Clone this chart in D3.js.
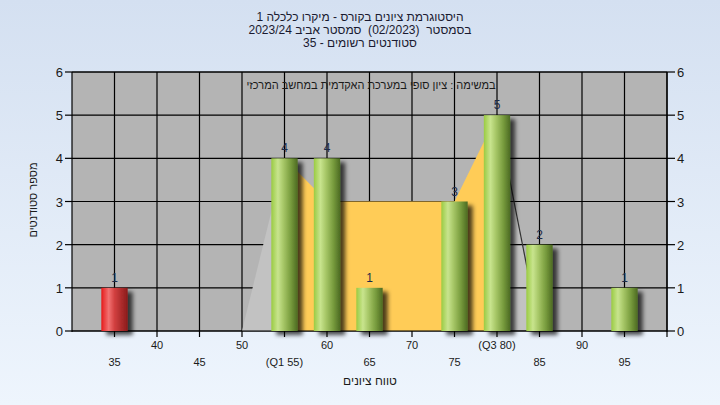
<!DOCTYPE html>
<html><head><meta charset="utf-8">
<script src="https://cdn.jsdelivr.net/npm/d3@7"></script>
<style>
html,body{margin:0;padding:0;overflow:hidden;}
svg text{font-family:"Liberation Sans",Arial,sans-serif;white-space:pre;}
</style></head>
<body>
<script>
// ---- data ----
const titleLines = ["היסטוגרמת ציונים בקורס - מיקרו כלכלה 1", "בסמסטר  (02/2023)  סמסטר אביב 2023/24", "סטודנטים רשומים - 35"];
const seriesName = "במשימה : ציון סופי במערכת האקדמית במחשב המרכזי";
const xTitle = "טווח ציונים";
const yTitle = "מספר סטודנטים";
const scores = [35, 55, 60, 65, 75, 80, 85, 95];
const counts = [1, 4, 4, 1, 3, 5, 2, 1];
const tickValues = [35, 40, 45, 50, 55, 60, 65, 70, 75, 80, 85, 90, 95];
const tickLabels = ["35", "40", "45", "50", "(Q1 55)", "60", "65", "70", "75", "(Q3 80)", "85", "90", "95"];
const spreadX = [50, 55, 60, 65, 70, 75, 80, 85];
const spreadY = [0, 4, 3, 3, 3, 3, 5, 0];
const q1 = 55, q3 = 80;
const passMark = 55;
const yTicks = [0, 1, 2, 3, 4, 5, 6];

// ---- layout ----
const W = 720, H = 405;
const svg = d3.select("body").append("svg").attr("width", W).attr("height", H);
const defs = svg.append("defs");
const bg = defs.append("linearGradient").attr("id", "bg").attr("x1", 0).attr("x2", 0).attr("y1", 0).attr("y2", 1);
bg.append("stop").attr("offset", "0%").attr("stop-color", "#d4e0f1");
bg.append("stop").attr("offset", "100%").attr("stop-color", "#eef5fd");
function cyl(id, stops) {
  const g = defs.append("linearGradient").attr("id", id).attr("x1", 0).attr("x2", 1).attr("y1", 0).attr("y2", 0);
  stops.forEach(s => g.append("stop").attr("offset", s[0]).attr("stop-color", s[1]));
}
cyl("green", [["0%", "#9acb42"], ["25%", "#c8e48e"], ["45%", "#a8c868"], ["75%", "#769a3c"], ["100%", "#4c6a22"]]);
cyl("red", [["0%", "#e61a1a"], ["28%", "#f27272"], ["50%", "#d24040"], ["100%", "#8a1a1a"]]);
const f = defs.append("filter").attr("id", "sh").attr("x", "-50%").attr("y", "-20%").attr("width", "200%").attr("height", "140%");
f.append("feDropShadow").attr("dx", 5).attr("dy", 4).attr("stdDeviation", 2.2).attr("flood-color", "#000").attr("flood-opacity", 0.7);
const clip = defs.append("clipPath").attr("id", "plotclip");

svg.append("rect").attr("width", W).attr("height", H).attr("fill", "url(#bg)");

const x = d3.scaleLinear().domain([30, 100]).range([72, 667]);
const y = d3.scaleLinear().domain([0, 6]).range([331, 72]);

clip.append("rect").attr("x", x(30)).attr("y", y(6)).attr("width", x(100) - x(30)).attr("height", y(0) - y(6) + 10);

// plot background
svg.append("rect").attr("x", x(30)).attr("y", y(6)).attr("width", x(100) - x(30)).attr("height", y(0) - y(6)).attr("fill", "#b4b4b4");

const pts = spreadX.map((v, i) => [v, spreadY[i]]);
const area = d3.area().x(d => x(d[0])).y0(y(0)).y1(d => y(d[1]));
const line = d3.line().x(d => x(d[0])).y(d => y(d[1]));

// right whisker fill (under grid)
svg.append("path").datum(pts.filter(d => d[0] >= q3)).attr("d", area).attr("fill", "#c2c2c2");

// grid
const grid = svg.append("g").attr("stroke", "#000").attr("stroke-width", 1.2);
grid.selectAll("line.h").data(yTicks).join("line")
  .attr("x1", x(30)).attr("x2", x(100)).attr("y1", d => y(d)).attr("y2", d => y(d));
grid.selectAll("line.v").data(d3.range(35, 101, 5)).join("line")
  .attr("x1", d => x(d)).attr("x2", d => x(d)).attr("y1", y(6)).attr("y2", y(0));

// left whisker + quartile area (over grid)
svg.append("path").datum(pts.filter(d => d[0] <= q1)).attr("d", area).attr("fill", "#c2c2c2");
svg.append("path").datum(pts.filter(d => d[0] >= q1 && d[0] <= q3)).attr("d", area).attr("fill", "#ffcc57");
svg.append("path").datum(pts.filter(d => d[0] >= q3)).attr("d", line).attr("fill", "none").attr("stroke", "#333").attr("stroke-width", 1.2);

// axes
const ax = svg.append("g").attr("stroke", "#000").attr("stroke-width", 1.2);
ax.append("line").attr("x1", x(30)).attr("x2", x(100)).attr("y1", y(6)).attr("y2", y(6));
ax.append("line").attr("x1", x(30)).attr("x2", x(100)).attr("y1", y(0)).attr("y2", y(0));
ax.append("line").attr("x1", x(30)).attr("x2", x(30)).attr("y1", y(6)).attr("y2", y(0) + 1);
ax.append("line").attr("x1", x(100)).attr("x2", x(100)).attr("y1", y(6)).attr("y2", y(0) + 1);
ax.selectAll("line.lt").data(yTicks).join("line").attr("x1", x(30) - 7).attr("x2", x(30)).attr("y1", d => y(d)).attr("y2", d => y(d));
ax.selectAll("line.rt").data(yTicks).join("line").attr("x1", x(100)).attr("x2", x(100) + 8).attr("y1", d => y(d)).attr("y2", d => y(d));
ax.selectAll("line.bt").data(d3.range(35, 101, 5)).join("line").attr("x1", d => x(d)).attr("x2", d => x(d)).attr("y1", y(0)).attr("y2", y(0) + 6);

// bars
const bw = (x(31.55) - x(30));
const bars = svg.append("g").attr("clip-path", "url(#plotclip)");
bars.selectAll("rect").data(scores).join("rect")
  .attr("x", d => x(d) - bw).attr("width", bw * 2)
  .attr("y", (d, i) => y(counts[i])).attr("height", (d, i) => y(0) - y(counts[i]))
  .attr("fill", d => d < passMark ? "url(#red)" : "url(#green)")
  .attr("filter", "url(#sh)");

// value labels
svg.append("g").selectAll("text").data(scores).join("text")
  .attr("x", d => x(d)).attr("y", (d, i) => y(counts[i]) - 6)
  .attr("text-anchor", "middle").attr("font-size", 12).attr("fill", "#1c2a48")
  .text((d, i) => counts[i]);

// y tick labels
const tl = svg.append("g").attr("font-size", 13).attr("fill", "#1a1a1a");
tl.selectAll("text.l").data(yTicks).join("text").attr("x", x(30) - 9).attr("y", d => y(d) + 5).attr("text-anchor", "end").text(d => d);
tl.selectAll("text.r").data(yTicks).join("text").attr("x", x(100) + 10).attr("y", d => y(d) + 5).attr("text-anchor", "start").text(d => d);

// x tick labels (staggered)
svg.append("g").attr("font-size", 11).attr("fill", "#1a1a1a").selectAll("text").data(tickValues).join("text")
  .attr("x", d => x(d)).attr("y", (d, i) => i % 2 === 0 ? 366 : 349)
  .attr("text-anchor", "middle").text((d, i) => tickLabels[i]);

// titles
svg.append("g").attr("font-size", 12).attr("fill", "#1a1a30").selectAll("text").data(titleLines).join("text")
  .attr("x", 360).attr("y", (d, i) => 21 + i * 13).attr("text-anchor", "middle").attr("direction", "rtl")
  .text(d => d);

svg.append("text").attr("x", 371).attr("y", 89).attr("text-anchor", "middle").attr("direction", "rtl")
  .attr("font-size", 11).attr("fill", "#1a1a1a").text(seriesName);

svg.append("text").attr("x", 370).attr("y", 385).attr("text-anchor", "middle").attr("direction", "rtl")
  .attr("font-size", 12).attr("fill", "#1a1a1a").text(xTitle);

svg.append("text").attr("transform", "translate(37,200) rotate(-90)").attr("text-anchor", "middle").attr("direction", "rtl")
  .attr("font-size", 11).attr("fill", "#1a1a1a").text(yTitle);
</script>
</body></html>
